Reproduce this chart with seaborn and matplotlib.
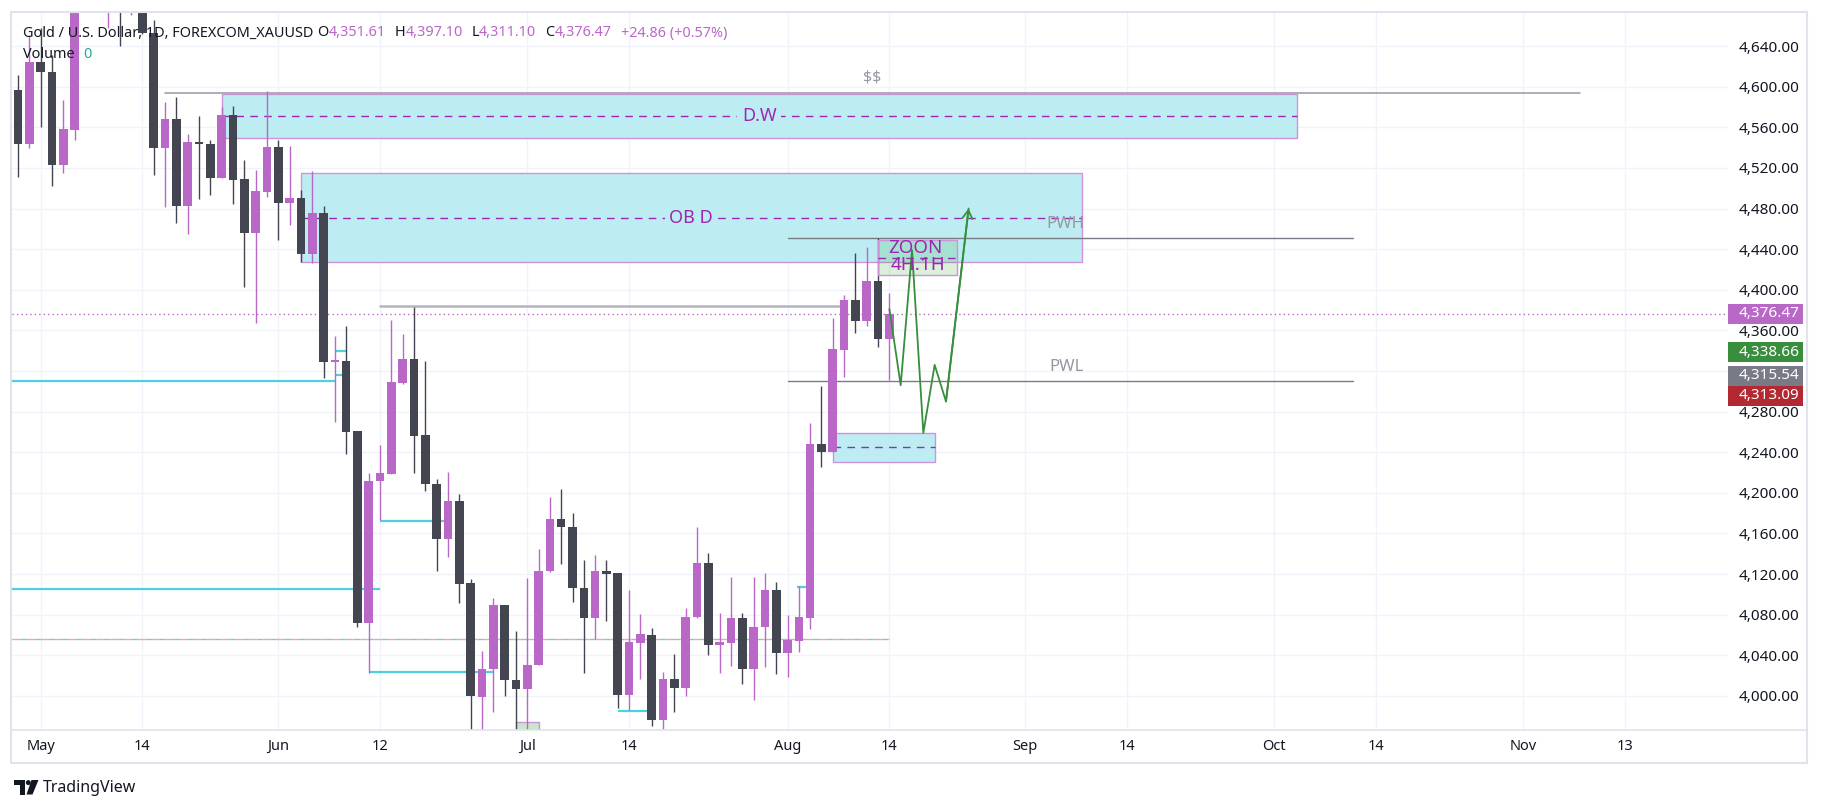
import numpy as np
import pandas as pd
import matplotlib
matplotlib.use("Agg")
import matplotlib.pyplot as plt
import matplotlib.patches as mpatches
import matplotlib.transforms as mtransforms
from matplotlib.lines import Line2D
import seaborn as sns

# ---------------- data ----------------
start_date = "2026-04-29"
n_slots = 152
opens = [4597, 4544, 4624, 4614, 4523, 4557, 4692, 4718, 4700, 4725,
         4685, 4695, 4653, 4540, 4568, 4482, 4545, 4544, 4510, 4572,
         4509, 4456, 4496, 4541, 4485, 4490, 4435, 4476, 4329, 4330,
         4261, 4072, 4212, 4219, 4308, 4332, 4257, 4209, 4155, 4192,
         4111, 3999, 4027, 4090, 4016, 4007, 4031, 4123, 4174, 4166,
         4106, 4077, 4123, 4121, 4001, 4052, 4060, 3976, 4017, 4008,
         4078, 4131, 4050, 4052, 4077, 4027, 4068, 4104, 4042, 4054,
         4077, 4248, 4240, 4341, 4390, 4369, 4409, 4351.61]
highs = [4611, 4651, 4658, 4631, 4587, 4705, 4735, 4745, 4740, 4735,
         4700, 4705, 4666, 4585, 4590, 4553, 4571, 4547, 4580, 4581,
         4528, 4518, 4596, 4547, 4542, 4498, 4517, 4482, 4354, 4364,
         4261, 4220, 4247, 4370, 4356, 4383, 4330, 4214, 4221, 4199,
         4115, 4044, 4096, 4090, 4064, 4116, 4145, 4196, 4204, 4180,
         4134, 4139, 4134, 4121, 4104, 4081, 4067, 4024, 4041, 4087,
         4166, 4141, 4082, 4117, 4082, 4117, 4121, 4112, 4080, 4108,
         4269, 4305, 4372, 4395, 4436, 4442, 4451, 4397.10]
lows = [4511, 4540, 4560, 4502, 4515, 4547, 4680, 4690, 4658, 4640,
        4671, 4652, 4513, 4481, 4466, 4455, 4489, 4493, 4510, 4484,
        4403, 4367, 4491, 4449, 4464, 4427, 4426, 4313, 4270, 4238,
        4068, 4023, 4173, 4219, 4307, 4220, 4202, 4123, 4137, 4092,
        3955, 3960, 3984, 4000, 3958, 3960, 4031, 4122, 4130, 4093,
        4023, 4056, 4074, 3988, 3986, 4017, 3970, 3962, 3984, 4000,
        4077, 4040, 4023, 4030, 4012, 3996, 4029, 4022, 4019, 4043,
        4066, 4225, 4240, 4314, 4357, 4364, 4344, 4311.10]
closes = [4544, 4624, 4614, 4523, 4558, 4692, 4718, 4702, 4725, 4685,
          4695, 4653, 4540, 4568, 4482, 4545, 4543.5, 4510, 4572, 4508,
          4456, 4497, 4541, 4485, 4490, 4435, 4476, 4329, 4331, 4260,
          4072, 4212, 4220, 4309, 4332, 4256, 4209, 4155, 4192, 4110,
          4000, 4027, 4090, 4016, 4007, 4031, 4123, 4174, 4166, 4106,
          4077, 4123, 4120, 4001, 4053, 4061, 3976, 4017, 4008, 4078,
          4131, 4050, 4053, 4077, 4027, 4068, 4104, 4042, 4055, 4078,
          4248, 4240, 4342, 4390, 4369, 4409, 4352, 4376.47]

tick_dates = ["2026-05-01", "2026-05-14", "2026-06-01", "2026-06-12", "2026-07-01",
              "2026-07-14", "2026-08-03", "2026-08-14", "2026-09-01", "2026-09-14",
              "2026-10-01", "2026-10-14", "2026-11-02", "2026-11-13"]
tick_labels = ["May", "14", "Jun", "12", "Jul", "14", "Aug", "14", "Sep", "14",
               "Oct", "14", "Nov", "13"]
price_ticks = list(range(4000, 4641, 40))

tag_values = [4376.47, 4338.66, 4315.54, 4313.09]
tag_colors = ["#ba68c8", "#388e3c", "#787b86", "#b22833"]

header_name = "Gold / U.S. Dollar, 1D, FOREXCOM_XAUUSD"
header_keys = ["O", "H", "L", "C"]
header_vals = ["4,351.61", "4,397.10", "4,311.10", "4,376.47"]
header_change = "+24.86 (+0.57%)"

# zones (bar index start/end, price low/high)
zone_labels = ["D.W", "OB D", ""]
zone_x0 = [18, 25, 72]
zone_x1 = [113, 94, 81]
zone_lo = [4549.5, 4427.4, 4230.1]
zone_hi = [4592.5, 4514.7, 4259.3]

zoon_x0, zoon_x1, zoon_lo, zoon_hi = 76, 83, 4414.2, 4449.0
lowbox_x0, lowbox_x1, lowbox_lo, lowbox_hi = 44, 46, 3940, 3974

# horizontal levels: (x0, x1, price)
grey_levels = [(13, 138, 4594.0)]
thick_grey = [(32, 73, 4384.0)]
pw_levels = [(68, 118, 4450.7, "PWH", 4465), (68, 118, 4310.2, "PWL", 4324)]
cyan_x0 = [-2, -2, 28, 28, 32, 31, 53, 68.85]
cyan_x1 = [28, 32, 29, 29, 38, 42, 56, 70]
cyan_p = [4310.5, 4105.0, 4339.7, 4316.0, 4172.6, 4024.0, 3985.6, 4107.0]
dash_level = (-2, 77, 4055.7)

# projected path
path_x = [77, 78, 79, 80, 81, 82, 84]
path_y = [4381, 4306, 4439, 4259, 4326, 4290, 4480]

# ---------------- style ----------------
sns.set_theme(style="white")
plt.rcParams["font.family"] = ["Noto Sans", "DejaVu Sans"]
plt.rcParams["lines.scale_dashes"] = False
plt.rcParams["text.parse_math"] = False

BULL = "#ba68c8"
BEAR = "#434651"
TXT = "#131722"
PURPLE_T = "#9c27b0"
ZONE_FILL = "#bdedf2"
ZONE_EDGE = "#ce93d8"

W, H = 1821, 809
fig = plt.figure(figsize=(W / 100, H / 100), dpi=100)
fig.patch.set_facecolor("white")
ax = fig.add_axes([11.5 / W, 1 - 729.5 / H, (1728 - 11.5) / W, (729.5 - 12.5) / H])
ax.set_facecolor("white")

dates = pd.bdate_range(start_date, periods=n_slots)
n = len(opens)
xs = np.arange(n)
df = pd.DataFrame({"x": xs, "open": opens, "high": highs, "low": lows, "close": closes})
df["bull"] = df["close"] >= df["open"]
df["color"] = np.where(df["bull"], BULL, BEAR)
df["bot"] = df[["open", "close"]].min(axis=1)
df["h"] = (df["close"] - df["open"]).abs().clip(lower=1.5)

ax.set_xlim(-0.57, 151.1)
ax.set_ylim(3967.0, 4673.0)

# grid
tick_pos = [dates.get_loc(pd.Timestamp(d)) for d in tick_dates]
ax.set_xticks(tick_pos)
ax.set_xticklabels(tick_labels)
ax.set_yticks(price_ticks)
ax.set_yticklabels([f"{v:,.2f}" for v in price_ticks])
ax.grid(True, color="#f0f3fa", lw=1.0, zorder=0)
ax.set_axisbelow(True)
for s in ax.spines.values():
    s.set_visible(False)
ax.yaxis.tick_right()
ax.tick_params(axis="y", length=0, pad=8.0, labelsize=11, labelcolor=TXT)
ax.tick_params(axis="x", length=0, pad=7.0, labelsize=10.5, labelcolor=TXT)
for lab, txt in zip(ax.get_xticklabels(), tick_labels):
    if not txt.isdigit():
        lab.set_fontweight("bold")

# zones
for lab, x0, x1, lo, hi in zip(zone_labels, zone_x0, zone_x1, zone_lo, zone_hi):
    ax.add_patch(mpatches.Rectangle((x0, lo), x1 - x0, hi - lo, fc=ZONE_FILL,
                                    ec=ZONE_EDGE, lw=1.0, zorder=1))
    mid = (lo + hi) / 2
    ax.plot([x0, x1], [mid, mid], color=PURPLE_T, lw=1.0,
            linestyle=(0, (5.5, 4.5)), zorder=1.5)
    if lab:
        ax.text((x0 + x1) / 2, mid, lab, color=PURPLE_T, fontsize=13,
                ha="center", va="center", zorder=6,
                bbox=dict(boxstyle="square,pad=0.25", fc=ZONE_FILL, ec="none"))

# low small box
ax.add_patch(mpatches.Rectangle((lowbox_x0, lowbox_lo), lowbox_x1 - lowbox_x0,
                                lowbox_hi - lowbox_lo, fc="#c8e6c9", ec=ZONE_EDGE,
                                lw=1.0, zorder=1))

# levels
for x0, x1, p in grey_levels:
    ax.plot([x0, x1], [p, p], color="#9598a1", lw=1.1, zorder=2)
    ax.text((x0 + x1) / 2, p + 7, "$$", color="#9598a1", fontsize=11.5,
            ha="center", va="bottom", zorder=6)
for x0, x1, p in thick_grey:
    ax.plot([x0, x1], [p, p], color="#b2b5be", lw=1.8, zorder=2)
for x0, x1, p, lab, ly in pw_levels:
    ax.plot([x0, x1], [p, p], color="#787b86", lw=1.0, zorder=2)
    ax.text(94.2, ly, lab, color="#9598a1", fontsize=12, ha="right",
            va="center", zorder=6)
for x0, x1, p in zip(cyan_x0, cyan_x1, cyan_p):
    ax.plot([x0, x1], [p, p], color="#4dd0e1", lw=1.6, zorder=2,
            solid_capstyle="butt")
dx0, dx1, dp = dash_level
ax.plot([dx0, dx1], [dp, dp], color="#f7a1a8", lw=1.0,
        linestyle=(0, (5, 5)), zorder=2)
ax.plot([dx0, dx1], [dp, dp], color="#80cbc4", lw=1.0,
        linestyle=(5, (5, 5)), zorder=2)

# current price dotted line
ax.axhline(closes[-1], color=BULL, lw=1.0, linestyle=(0, (1, 2.2)), zorder=2)

# candles
ax.vlines(df["x"], df["low"], df["high"], colors=df["color"], lw=1.0, zorder=3)
ax.bar(df["x"], df["h"], bottom=df["bot"], width=0.76, color=df["color"],
       linewidth=0, zorder=3.5)

# ZOON box (semi transparent green)
ax.add_patch(mpatches.Rectangle((zoon_x0, zoon_lo), zoon_x1 - zoon_x0,
                                zoon_hi - zoon_lo, fc=(0.30, 0.69, 0.31, 0.2),
                                ec=ZONE_EDGE, lw=1.0, zorder=4))
zmid = (zoon_lo + zoon_hi) / 2
ax.plot([zoon_x0, zoon_x1], [zmid, zmid], color=PURPLE_T, lw=1.0,
        linestyle=(0, (5.5, 4.5)), zorder=4)
ax.text((zoon_x0 + zoon_x1) / 2 - 0.2, zoon_hi - 8, "ZOON", color=PURPLE_T,
        fontsize=13.5, ha="center", va="center", zorder=6)
ax.text((zoon_x0 + zoon_x1) / 2, zoon_lo + 10, "4H.1H", color=PURPLE_T,
        fontsize=13.5, ha="center", va="center", zorder=6)

# projected zigzag path
path_df = pd.DataFrame({"x": path_x, "y": path_y})
sns.lineplot(data=path_df, x="x", y="y", sort=False, color="#388e3c", lw=1.3,
             ax=ax, zorder=5)
ax.annotate("", xy=(path_x[-1], path_y[-1]), xytext=(path_x[-2], path_y[-2]),
            arrowprops=dict(arrowstyle="->,head_length=0.5,head_width=0.3",
                            color="#388e3c", lw=1.3, shrinkA=0, shrinkB=0),
            zorder=5)
ax.set_xlabel("")
ax.set_ylabel("")

# price tags on the axis
fig.canvas.draw()
bb = ax.get_window_extent()
ppx = (ax.get_ylim()[1] - ax.get_ylim()[0]) / bb.height
tag_h = 20 * ppx
tr = mtransforms.blended_transform_factory(fig.transFigure, ax.transData)
prev = None
for v, c in zip(tag_values, tag_colors):
    cy = v if prev is None else min(v, prev - tag_h)
    prev = cy
    ax.add_patch(mpatches.FancyBboxPatch((1728 / W, cy - tag_h / 2), 74.5 / W, tag_h,
                                         boxstyle="square,pad=0", fc=c, ec="none",
                                         transform=tr, clip_on=False, zorder=10))
    ax.text(1738.5 / W, cy, f"{v:,.2f}", transform=tr, color="white", fontsize=11,
            fontweight="bold", ha="left", va="center", zorder=11, clip_on=False)

# frame
fig.add_artist(mpatches.Rectangle((11 / W, 1 - 763 / H), (1807 - 11) / W, (763 - 12) / H,
                                  transform=fig.transFigure, fill=False,
                                  ec="#e0e3eb", lw=1.5))
fig.add_artist(Line2D([11 / W, 1807 / W], [1 - 729.5 / H, 1 - 729.5 / H],
                      transform=fig.transFigure, color="#e0e3eb", lw=1.2))

# header legend
def chain(x, y, parts, size=10.4):
    t = fig.text(x, y, parts[0][0], color=parts[0][1], fontsize=size,
                 ha="left", va="center", zorder=20)
    for s, c, gap in parts[1:]:
        t = ax.annotate(s, xy=(1, 0), xycoords=t, xytext=(gap, 0),
                        textcoords="offset points", ha="left", va="bottom",
                        color=c, fontsize=size, zorder=20, annotation_clip=False)
    return t

parts = [(header_name, TXT, 0)]
for i, (k, v) in enumerate(zip(header_keys, header_vals)):
    parts.append((k, TXT, 2.8 if i == 0 else 6.5))
    parts.append((v, BULL, 0))
parts.append((header_change, BULL, 6.5))
chain(23 / W, 1 - 33 / H, parts)
chain(23 / W, 1 - 54 / H, [("Volume", TXT, 0), ("0", "#26a69a", 6)])

# TradingView logo
def P(px, py):
    return (px / W, 1 - py / H)
logo_kw = dict(transform=fig.transFigure, fc="#131722", ec="none")
fig.add_artist(mpatches.Polygon([P(14, 780), P(25, 780), P(25, 794.5), P(20, 794.5),
                                 P(20, 785), P(14, 785)], **logo_kw))
fig.add_artist(mpatches.Ellipse(P(28.3, 782.6), 5 / W, 5 / H, **logo_kw))
fig.add_artist(mpatches.Polygon([P(31.5, 780), P(38.5, 780), P(32.5, 794.5),
                                 P(26.5, 794.5)], **logo_kw))
fig.text(42.5 / W, 1 - 787.5 / H, "TradingView", color=TXT, fontsize=11.5,
         ha="left", va="center")

fig.savefig("out.png", dpi=100, facecolor="white")
